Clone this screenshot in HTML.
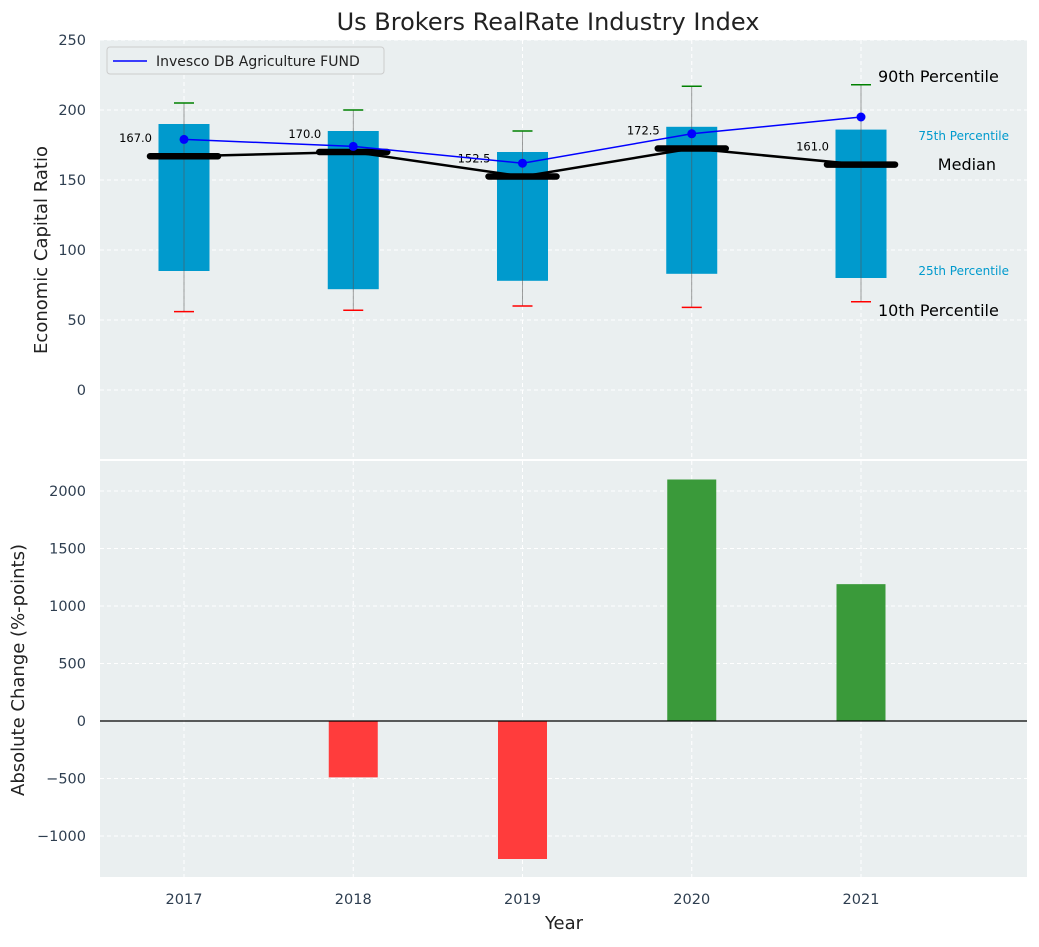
<!DOCTYPE html>
<html><head><meta charset="utf-8"><style>
body{margin:0;background:#fff;font-family:"Liberation Sans","DejaVu Sans",sans-serif}
svg text{font-family:"DejaVu Sans","Liberation Sans",sans-serif}
</style></head><body>
<svg id="c" width="1039" height="942" xmlns="http://www.w3.org/2000/svg"></svg>
<script>
const years=[2017,2018,2019,2020,2021];
const p10=[56,57,60,59,63];
const p25=[85,72,78,83,80];
const p75=[190,185,170,188,186];
const p90=[205,200,185,217,218];
const median=[167,170,152.5,172.5,161];
const fund=[179,174,162,183,195];
const change=[0,-490,-1200,2100,1190];
const topTicks=[0,50,100,150,200,250];
const botTicks=[-1000,-500,0,500,1000,1500,2000];

const svg=document.getElementById('c');const NS='http://www.w3.org/2000/svg';
function el(t,a,name,txt){const e=document.createElementNS(NS,t);for(const k in a)e.setAttribute(k,a[k]);


if(txt!==undefined)e.textContent=txt;svg.appendChild(e);return e;}
const L=100,R=1027;
const x=v=>184+(v-2017)*169.25;
const yT=v=>390-v*1.4;
const yB=v=>721-v*0.115;
el('rect',{x:L,y:40,width:R-L,height:419,fill:'#eaeff0'},'top-plot-area');
el('rect',{x:L,y:461,width:R-L,height:416,fill:'#eaeff0'},'bottom-plot-area');
topTicks.forEach(t=>{el('line',{x1:L,x2:R,y1:yT(t),y2:yT(t),stroke:'#fff','stroke-dasharray':'4,3'},'top-grid');
el('text',{x:86,y:yT(t)+5,'text-anchor':'end','font-size':14.5,fill:'#2e3e50'},'top-tick-label',t);});
botTicks.forEach(t=>{el('line',{x1:L,x2:R,y1:yB(t),y2:yB(t),stroke:'#fff','stroke-dasharray':'4,3'},'bottom-grid');
el('text',{x:86,y:yB(t)+5,'text-anchor':'end','font-size':14.5,fill:'#2e3e50'},'bottom-tick-label',t<0?'\u2212'+(-t):t);});
years.forEach(yr=>{el('line',{x1:x(yr),x2:x(yr),y1:40,y2:459,stroke:'#fff','stroke-dasharray':'4,3'},'top-x-grid');
el('line',{x1:x(yr),x2:x(yr),y1:461,y2:877,stroke:'#fff','stroke-dasharray':'4,3'},'bottom-x-grid');
el('text',{x:x(yr),y:904,'text-anchor':'middle','font-size':14.5,fill:'#2e3e50'},'x-tick-label',yr);});
const bw=51;
years.forEach((yr,i)=>{const cx=x(yr);
el('rect',{x:cx-bw/2,y:yT(p75[i]),width:bw,height:yT(p25[i])-yT(p75[i]),fill:'#009acd'},'box-'+yr);
el('line',{x1:cx,x2:cx,y1:yT(p90[i]),y2:yT(p10[i]),stroke:'#555','stroke-width':0.8,opacity:0.7},'whisker-'+yr);
el('line',{x1:cx-10,x2:cx+10,y1:yT(p90[i]),y2:yT(p90[i]),stroke:'green','stroke-width':1.5},'p90-cap');
el('line',{x1:cx-10,x2:cx+10,y1:yT(p10[i]),y2:yT(p10[i]),stroke:'red','stroke-width':1.5},'p10-cap');
el('line',{x1:cx-34,x2:cx+34,y1:yT(median[i]),y2:yT(median[i]),stroke:'#000','stroke-width':6.5,'stroke-linecap':'round'},'median-marker');
el('text',{x:cx-32,y:yT(median[i])-14,'text-anchor':'end','font-size':11.5,fill:'#000'},'median-label',median[i].toFixed(1));
const v=change[i];
if(v!==0)el('rect',{x:cx-24.5,y:Math.min(yB(v),yB(0)),width:49,height:Math.abs(yB(v)-yB(0)),fill:v>0?'#3a9a3a':'#ff3c3c'},'change-bar-'+yr);});
el('polyline',{points:years.map((yr,i)=>x(yr)+','+yT(median[i])).join(' '),fill:'none',stroke:'#000','stroke-width':2.5},'median-line');
el('polyline',{points:years.map((yr,i)=>x(yr)+','+yT(fund[i])).join(' '),fill:'none',stroke:'blue','stroke-width':1.5},'fund-line');
years.forEach((yr,i)=>el('circle',{cx:x(yr),cy:yT(fund[i]),r:4.5,fill:'blue'},'fund-point'));
el('line',{x1:L,x2:R,y1:yB(0),y2:yB(0),stroke:'#000','stroke-width':1.2},'zero-line');
el('line',{x1:L,x2:R,y1:460,y2:460,stroke:'#fff','stroke-width':2},'divider');
const lx=x(2021)+17;
el('text',{x:lx,y:82,'font-size':16,fill:'#000'},'p90-annotation','90th Percentile');
el('text',{x:1009,y:140,'text-anchor':'end','font-size':12,fill:'#009acd'},'p75-annotation','75th Percentile');
el('text',{x:996,y:170,'text-anchor':'end','font-size':16,fill:'#000'},'median-annotation','Median');
el('text',{x:1009,y:275,'text-anchor':'end','font-size':12,fill:'#009acd'},'p25-annotation','25th Percentile');
el('text',{x:lx,y:316,'font-size':16,fill:'#000'},'p10-annotation','10th Percentile');
el('rect',{x:107,y:47,width:277,height:27,rx:3,fill:'#eaeff0',stroke:'#ccc'},'legend-box');
el('line',{x1:113,x2:147,y1:61,y2:61,stroke:'blue','stroke-width':1.5},'legend-line');
el('text',{x:156,y:66,'font-size':14,fill:'#222'},'legend-label','Invesco DB Agriculture FUND');
el('text',{x:548,y:30,'text-anchor':'middle','font-size':24,fill:'#222'},'chart-title','Us Brokers RealRate Industry Index');
el('text',{x:564,y:929,'text-anchor':'middle','font-size':18,fill:'#222'},'x-axis-title','Year');
el('text',{x:47,y:250,'text-anchor':'middle','font-size':18,fill:'#222',transform:'rotate(-90 47 250)'},'top-y-axis-title','Economic Capital Ratio');
el('text',{x:24,y:670,'text-anchor':'middle','font-size':18,fill:'#222',transform:'rotate(-90 24 670)'},'bottom-y-axis-title','Absolute Change (%-points)');
</script></body></html>
